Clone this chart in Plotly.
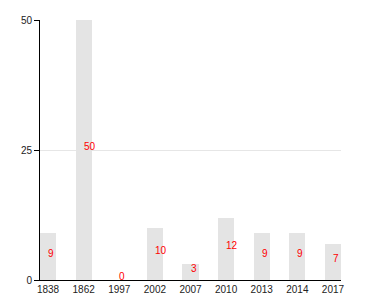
import plotly.graph_objects as go

years = ["1838", "1862", "1997", "2002", "2007", "2010", "2013", "2014", "2017"]
counts = [9, 50, 0, 10, 3, 12, 9, 9, 7]
y_ticks = [0, 25, 50]

fig = go.Figure()
fig.add_trace(go.Bar(x=years, y=counts, width=0.45, marker=dict(color="#e4e4e4", line=dict(width=0)),
                     hoverinfo="skip"))

for i, c in enumerate(counts):
    fig.add_annotation(x=i, y=c / 2, xref="x", yref="y", text=str(c), showarrow=False,
                       xanchor="left", yanchor="middle", xshift=-2, yshift=3.5,
                       font=dict(family="Liberation Sans, Arial, sans-serif", size=10, color="red"))

fig.update_layout(
    width=380, height=300,
    margin=dict(l=40, r=39, t=20, b=20),
    plot_bgcolor="white", paper_bgcolor="white",
    showlegend=False,
    font=dict(family="Liberation Sans, Arial, sans-serif", size=10, color="#222"),
    bargap=0,
)
fig.update_xaxes(type="category", range=[-0.225, 8.225], showline=True, linecolor="black",
                 linewidth=1, ticks="", showgrid=False, automargin=False,
                 tickfont=dict(size=10, color="#222"))
fig.update_yaxes(range=[0, 50], tickvals=y_ticks, showline=True, linecolor="black", linewidth=1,
                 ticks="outside", ticklen=5, tickcolor="black", showgrid=True, gridcolor="#e6e6e6",
                 zeroline=False, automargin=False, tickfont=dict(size=10, color="#222"))

fig.write_html("out.html")
